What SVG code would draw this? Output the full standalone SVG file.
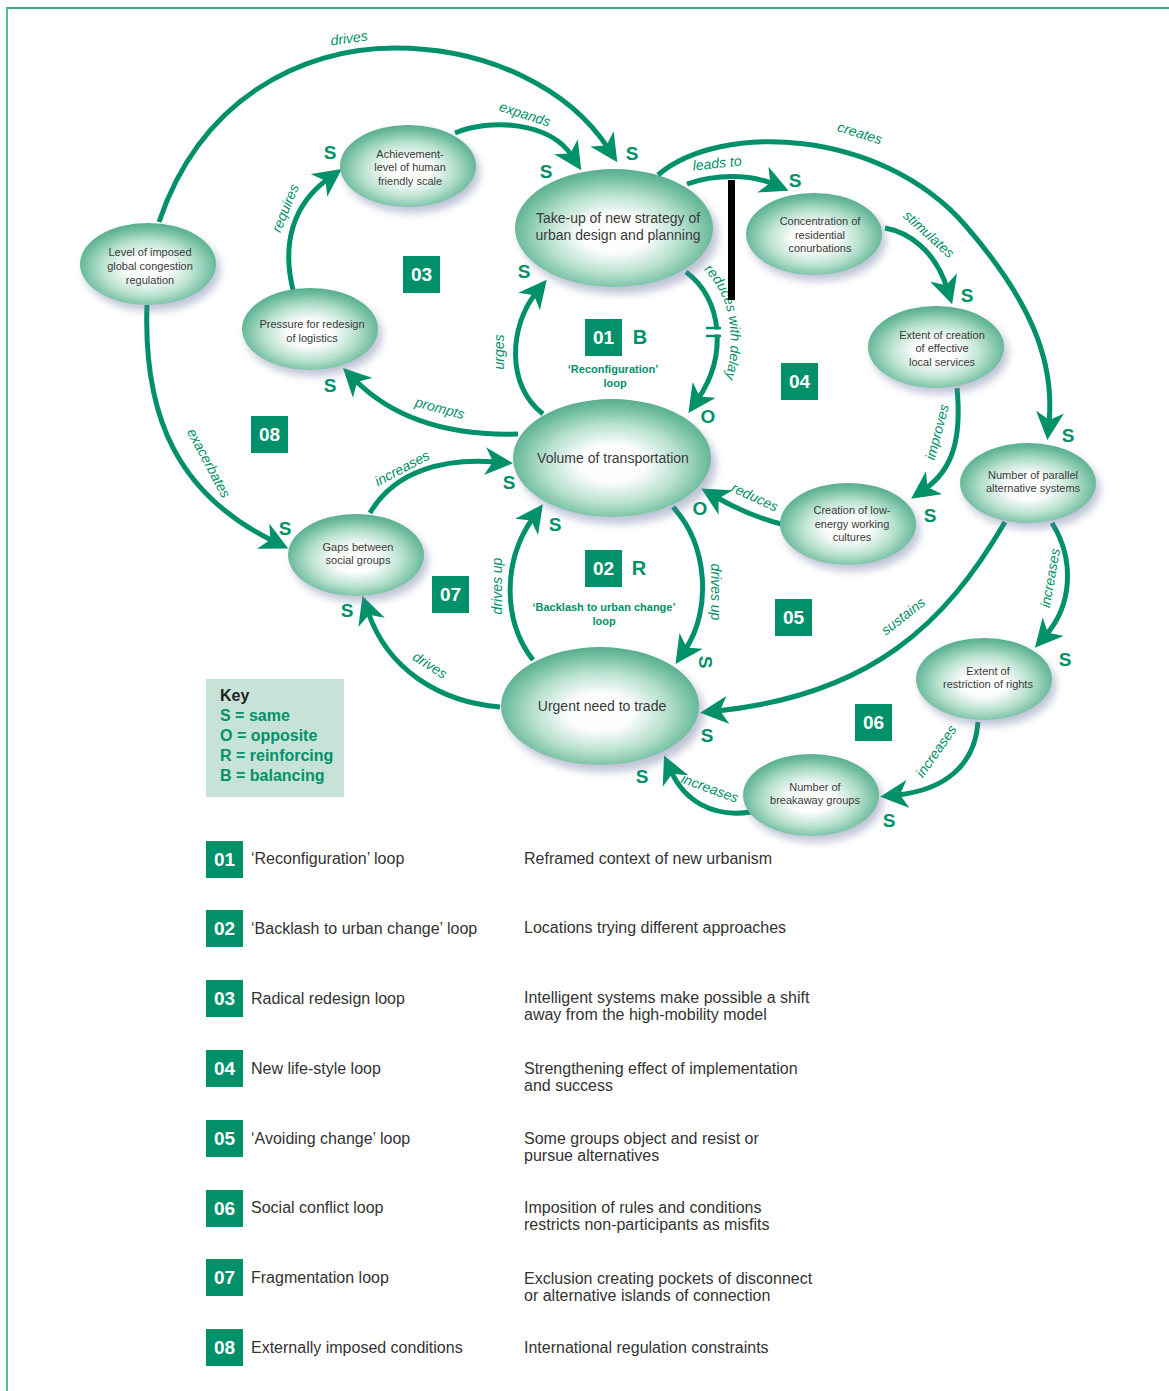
<svg xmlns="http://www.w3.org/2000/svg" width="1169" height="1391" viewBox="0 0 1169 1391">
<defs>
<radialGradient id="ng" cx="50%" cy="55%" r="55%">
<stop offset="0" stop-color="#ffffff"/>
<stop offset="0.3" stop-color="#fbfdfc"/>
<stop offset="0.62" stop-color="#b6e0ce"/>
<stop offset="0.88" stop-color="#6fbc9f"/>
<stop offset="1" stop-color="#58ad8d"/>
</radialGradient>
<filter id="sh" x="-30%" y="-30%" width="160%" height="160%">
<feGaussianBlur stdDeviation="4"/>
</filter>
<marker id="ah" markerUnits="userSpaceOnUse" viewBox="0 0 28 28" markerWidth="28" markerHeight="28" refX="11" refY="14" orient="auto">
<path d="M28,14 L0,0 L8,14 L0,28 Z" fill="#00916a"/>
</marker>
</defs>
<style>
.c{fill:none;stroke:#00916a;stroke-width:5;marker-end:url(#ah)}
.nt{font-family:"Liberation Sans",Arial,sans-serif;font-size:11px;fill:#3a3a3a;text-anchor:middle}
.bt{font-family:"Liberation Sans",Arial,sans-serif;font-size:14px;fill:#3a3a3a;text-anchor:middle}
.lb{font-family:"Liberation Sans",Arial,sans-serif;font-size:14px;font-style:italic;fill:#00916a;text-anchor:middle}
.so{font-family:"Liberation Sans",Arial,sans-serif;font-size:19px;font-weight:bold;fill:#00916a;text-anchor:middle}
.bx{fill:#00916a}
.bn{font-family:"Liberation Sans",Arial,sans-serif;font-size:19px;font-weight:bold;fill:#ffffff;text-anchor:middle}
.ll{font-family:"Liberation Sans",Arial,sans-serif;font-size:11px;font-weight:bold;fill:#00916a;text-anchor:middle}
.kt{font-family:"Liberation Sans",Arial,sans-serif;font-size:16px;font-weight:bold;fill:#00916a}
.rt{font-family:"Liberation Sans",Arial,sans-serif;font-size:16px;fill:#333333}
.sd{fill:#6f7ca3;opacity:0.45;filter:url(#sh)}
.el{fill:url(#ng)}
</style>
<rect width="1169" height="1391" fill="#ffffff"/>
<line x1="6" y1="8" x2="1169" y2="8" stroke="#3aa886" stroke-width="2"/>
<line x1="7" y1="7" x2="7" y2="1391" stroke="#56bb9a" stroke-width="2"/>

<g id="connectors">
<path class="c" d="M159,222 C200,100 300,48 395,48 C490,48 570,90 608,148"/>
<path class="c" d="M455,133 C490,118 550,122 572,156"/>
<path class="c" d="M293,290 C282,245 292,205 328,179"/>
<path class="c" d="M518,434 C450,436 395,420 355,380"/>
<path class="c" d="M543,414 C505,385 510,325 536,293"/>
<path class="c" d="M686,272 C722,298 728,355 698,399"/>
<path class="c" d="M687,184 C715,174 750,174 773,184"/>
<path class="c" d="M658,175 C720,122 880,128 965,225 C1030,300 1055,360 1049,423"/>
<path class="c" d="M885,228 C908,232 935,250 947,288"/>
<path class="c" d="M957,388 C962,440 952,470 925,489"/>
<path class="c" d="M781,524 C758,518 735,508 716,497"/>
<path class="c" d="M673,507 C708,545 712,610 685,650"/>
<path class="c" d="M533,660 C502,620 503,560 533,518"/>
<path class="c" d="M370,513 C395,470 445,458 496,462"/>
<path class="c" d="M500,707 C440,702 388,670 368,612"/>
<path class="c" d="M147,305 C143,420 180,495 273,541"/>
<path class="c" d="M1005,522 C945,625 870,695 717,711"/>
<path class="c" d="M1052,523 C1075,560 1072,605 1046,635"/>
<path class="c" d="M978,722 C975,765 945,790 897,795"/>
<path class="c" d="M751,812 C712,818 684,800 671,771"/>
<rect x="710" y="329.5" width="12" height="5" fill="#ffffff"/>
<line x1="706" y1="328" x2="721" y2="328" stroke="#00916a" stroke-width="2.5"/>
<line x1="706" y1="336" x2="721" y2="336" stroke="#00916a" stroke-width="2.5"/>
<path id="rwd" d="M699,266 C736,294 742,362 710,410" fill="none"/>
<text class="lb" style="text-anchor:start"><textPath href="#rwd" startOffset="6">reduces with delay</textPath></text>
<text class="lb" transform="translate(349,38) rotate(-8)" y="5">drives</text>
<text class="lb" transform="translate(525,114) rotate(18)" y="5">expands</text>
<text class="lb" transform="translate(285,208) rotate(-68)" y="5">requires</text>
<text class="lb" transform="translate(440,408) rotate(15)" y="5">prompts</text>
<text class="lb" transform="translate(499,352) rotate(-90)" y="5">urges</text>
<text class="lb" transform="translate(717,163) rotate(-6)" y="5">leads to</text>
<text class="lb" transform="translate(860,133) rotate(17)" y="5">creates</text>
<text class="lb" transform="translate(929,234) rotate(42)" y="5">stimulates</text>
<text class="lb" transform="translate(937,432) rotate(-75)" y="5">improves</text>
<text class="lb" transform="translate(755,497) rotate(25)" y="5">reduces</text>
<text class="lb" transform="translate(402,468) rotate(-28)" y="5">increases</text>
<text class="lb" transform="translate(497,586) rotate(-90)" y="5">drives up</text>
<text class="lb" transform="translate(716,592) rotate(90)" y="5">drives up</text>
<text class="lb" transform="translate(430,665) rotate(32)" y="5">drives</text>
<text class="lb" transform="translate(209,463) rotate(62)" y="5">exacerbates</text>
<text class="lb" transform="translate(903,616) rotate(-38)" y="5">sustains</text>
<text class="lb" transform="translate(1050,578) rotate(-80)" y="5">increases</text>
<text class="lb" transform="translate(936,751) rotate(-55)" y="5">increases</text>
<text class="lb" transform="translate(710,788) rotate(20)" y="5">increases</text>
<text class="so" x="330" y="159">S</text>
<text class="so" x="546" y="178">S</text>
<text class="so" x="632" y="160">S</text>
<text class="so" x="795" y="187">S</text>
<text class="so" x="524" y="278">S</text>
<text class="so" x="330" y="392">S</text>
<text class="so" x="708" y="423">O</text>
<text class="so" x="967" y="302">S</text>
<text class="so" x="1068" y="442">S</text>
<text class="so" x="930" y="522">S</text>
<text class="so" x="700" y="515">O</text>
<text class="so" x="509" y="489">S</text>
<text class="so" x="555" y="531">S</text>
<text class="so" x="285" y="535">S</text>
<text class="so" x="347" y="617">S</text>
<text class="so" transform="translate(706,662) rotate(90)" y="7">S</text>
<text class="so" x="707" y="742">S</text>
<text class="so" x="642" y="783">S</text>
<text class="so" x="1065" y="666">S</text>
<text class="so" x="889" y="827">S</text>
</g>

<rect x="728" y="180" width="7" height="120" fill="#000000"/>

<g id="n-level"><ellipse class="sd" cx="152" cy="270" rx="68" ry="41"/><ellipse class="el" cx="148" cy="264" rx="68" ry="41"/>
<text class="nt" x="150" y="256">Level of imposed</text><text class="nt" x="150" y="270">global congestion</text><text class="nt" x="150" y="284">regulation</text></g>
<g id="n-achieve"><ellipse class="sd" cx="412" cy="172" rx="68" ry="41"/><ellipse class="el" cx="408" cy="166" rx="68" ry="41"/>
<text class="nt" x="410" y="158">Achievement-</text><text class="nt" x="410" y="171">level of human</text><text class="nt" x="410" y="185">friendly scale</text></g>
<g id="n-pressure"><ellipse class="sd" cx="314" cy="335" rx="68" ry="41"/><ellipse class="el" cx="310" cy="329" rx="68" ry="41"/>
<text class="nt" x="312" y="328">Pressure for redesign</text><text class="nt" x="312" y="342">of logistics</text></g>
<g id="n-takeup"><ellipse class="sd" cx="619" cy="235" rx="99" ry="59"/><ellipse class="el" cx="614" cy="228" rx="99" ry="59"/>
<text class="bt" x="618" y="223">Take-up of new strategy of</text><text class="bt" x="618" y="240">urban design and planning</text></g>
<g id="n-concentration"><ellipse class="sd" cx="818" cy="240" rx="68" ry="41"/><ellipse class="el" cx="814" cy="234" rx="68" ry="41"/>
<text class="nt" x="820" y="225">Concentration of</text><text class="nt" x="820" y="239">residential</text><text class="nt" x="820" y="252">conurbations</text></g>
<g id="n-services"><ellipse class="sd" cx="940" cy="353" rx="68" ry="41"/><ellipse class="el" cx="936" cy="347" rx="68" ry="41"/>
<text class="nt" x="942" y="339">Extent of creation</text><text class="nt" x="942" y="352">of effective</text><text class="nt" x="942" y="366">local services</text></g>
<g id="n-parallel"><ellipse class="sd" cx="1032" cy="489" rx="68" ry="40"/><ellipse class="el" cx="1028" cy="483" rx="68" ry="40"/>
<text class="nt" x="1033" y="479">Number of parallel</text><text class="nt" x="1033" y="492">alternative systems</text></g>
<g id="n-lowenergy"><ellipse class="sd" cx="852" cy="530" rx="68" ry="41"/><ellipse class="el" cx="848" cy="524" rx="68" ry="41"/>
<text class="nt" x="852" y="514">Creation of low-</text><text class="nt" x="852" y="528">energy working</text><text class="nt" x="852" y="541">cultures</text></g>
<g id="n-volume"><ellipse class="sd" cx="617" cy="465" rx="99" ry="59"/><ellipse class="el" cx="612" cy="458" rx="99" ry="59"/>
<text class="bt" x="613" y="463">Volume of transportation</text></g>
<g id="n-gaps"><ellipse class="sd" cx="360" cy="561" rx="68" ry="41"/><ellipse class="el" cx="356" cy="555" rx="68" ry="41"/>
<text class="nt" x="358" y="551">Gaps between</text><text class="nt" x="358" y="564">social groups</text></g>
<g id="n-urgent"><ellipse class="sd" cx="605" cy="713" rx="99" ry="59"/><ellipse class="el" cx="600" cy="706" rx="99" ry="59"/>
<text class="bt" x="602" y="711">Urgent need to trade</text></g>
<g id="n-restriction"><ellipse class="sd" cx="988" cy="685" rx="68" ry="41"/><ellipse class="el" cx="984" cy="679" rx="68" ry="41"/>
<text class="nt" x="988" y="675">Extent of</text><text class="nt" x="988" y="688">restriction of rights</text></g>
<g id="n-breakaway"><ellipse class="sd" cx="815" cy="801" rx="68" ry="41"/><ellipse class="el" cx="811" cy="795" rx="68" ry="41"/>
<text class="nt" x="815" y="791">Number of</text><text class="nt" x="815" y="804">breakaway groups</text></g>

<g id="loop-markers">
<rect class="bx" x="403" y="256" width="37" height="37"/><text class="bn" x="421.5" y="281">03</text>
<rect class="bx" x="585" y="319" width="37" height="37"/><text class="bn" x="603.5" y="344">01</text>
<text class="so" x="640" y="344" style="font-size:20px">B</text>
<text class="ll" x="613" y="373">‘Reconfiguration’</text><text class="ll" x="615" y="387">loop</text>
<rect class="bx" x="781" y="363" width="37" height="37"/><text class="bn" x="799.5" y="388">04</text>
<rect class="bx" x="251" y="416" width="37" height="37"/><text class="bn" x="269.5" y="441">08</text>
<rect class="bx" x="585" y="550" width="37" height="37"/><text class="bn" x="603.5" y="575">02</text>
<text class="so" x="639" y="575" style="font-size:20px">R</text>
<text class="ll" x="604" y="611">‘Backlash to urban change’</text><text class="ll" x="604" y="625">loop</text>
<rect class="bx" x="432" y="576" width="37" height="37"/><text class="bn" x="450.5" y="601">07</text>
<rect class="bx" x="775" y="599" width="37" height="37"/><text class="bn" x="793.5" y="624">05</text>
<rect class="bx" x="855" y="704" width="37" height="37"/><text class="bn" x="873.5" y="729">06</text>
</g>

<g id="key">
<rect x="206" y="679" width="138" height="118" fill="#c7e2d6"/>
<text x="220" y="701" style="font-family:'Liberation Sans',Arial,sans-serif;font-size:16px;font-weight:bold;fill:#222">Key</text>
<text class="kt" x="220" y="721">S = same</text>
<text class="kt" x="220" y="741">O = opposite</text>
<text class="kt" x="220" y="761">R = reinforcing</text>
<text class="kt" x="220" y="781">B = balancing</text>
</g>

<g id="legend">
<rect class="bx" x="206" y="841" width="37" height="37"/><text class="bn" x="224.5" y="866">01</text>
<text class="rt" x="251" y="864">‘Reconfiguration’ loop</text>
<text class="rt" x="524" y="864">Reframed context of new urbanism</text>
<rect class="bx" x="206" y="910" width="37" height="37"/><text class="bn" x="224.5" y="935">02</text>
<text class="rt" x="251" y="934">‘Backlash to urban change’ loop</text>
<text class="rt" x="524" y="933">Locations trying different approaches</text>
<rect class="bx" x="206" y="980" width="37" height="37"/><text class="bn" x="224.5" y="1005">03</text>
<text class="rt" x="251" y="1004">Radical redesign loop</text>
<text class="rt" x="524" y="1003">Intelligent systems make possible a shift</text>
<text class="rt" x="524" y="1020">away from the high-mobility model</text>
<rect class="bx" x="206" y="1050" width="37" height="37"/><text class="bn" x="224.5" y="1075">04</text>
<text class="rt" x="251" y="1074">New life-style loop</text>
<text class="rt" x="524" y="1074">Strengthening effect of implementation</text>
<text class="rt" x="524" y="1091">and success</text>
<rect class="bx" x="206" y="1120" width="37" height="37"/><text class="bn" x="224.5" y="1145">05</text>
<text class="rt" x="251" y="1144">‘Avoiding change’ loop</text>
<text class="rt" x="524" y="1144">Some groups object and resist or</text>
<text class="rt" x="524" y="1161">pursue alternatives</text>
<rect class="bx" x="206" y="1190" width="37" height="37"/><text class="bn" x="224.5" y="1215">06</text>
<text class="rt" x="251" y="1213">Social conflict loop</text>
<text class="rt" x="524" y="1213">Imposition of rules and conditions</text>
<text class="rt" x="524" y="1230">restricts non-participants as misfits</text>
<rect class="bx" x="206" y="1259" width="37" height="37"/><text class="bn" x="224.5" y="1284">07</text>
<text class="rt" x="251" y="1283">Fragmentation loop</text>
<text class="rt" x="524" y="1284">Exclusion creating pockets of disconnect</text>
<text class="rt" x="524" y="1301">or alternative islands of connection</text>
<rect class="bx" x="206" y="1329" width="37" height="37"/><text class="bn" x="224.5" y="1354">08</text>
<text class="rt" x="251" y="1353">Externally imposed conditions</text>
<text class="rt" x="524" y="1353">International regulation constraints</text>
</g>
</svg>
